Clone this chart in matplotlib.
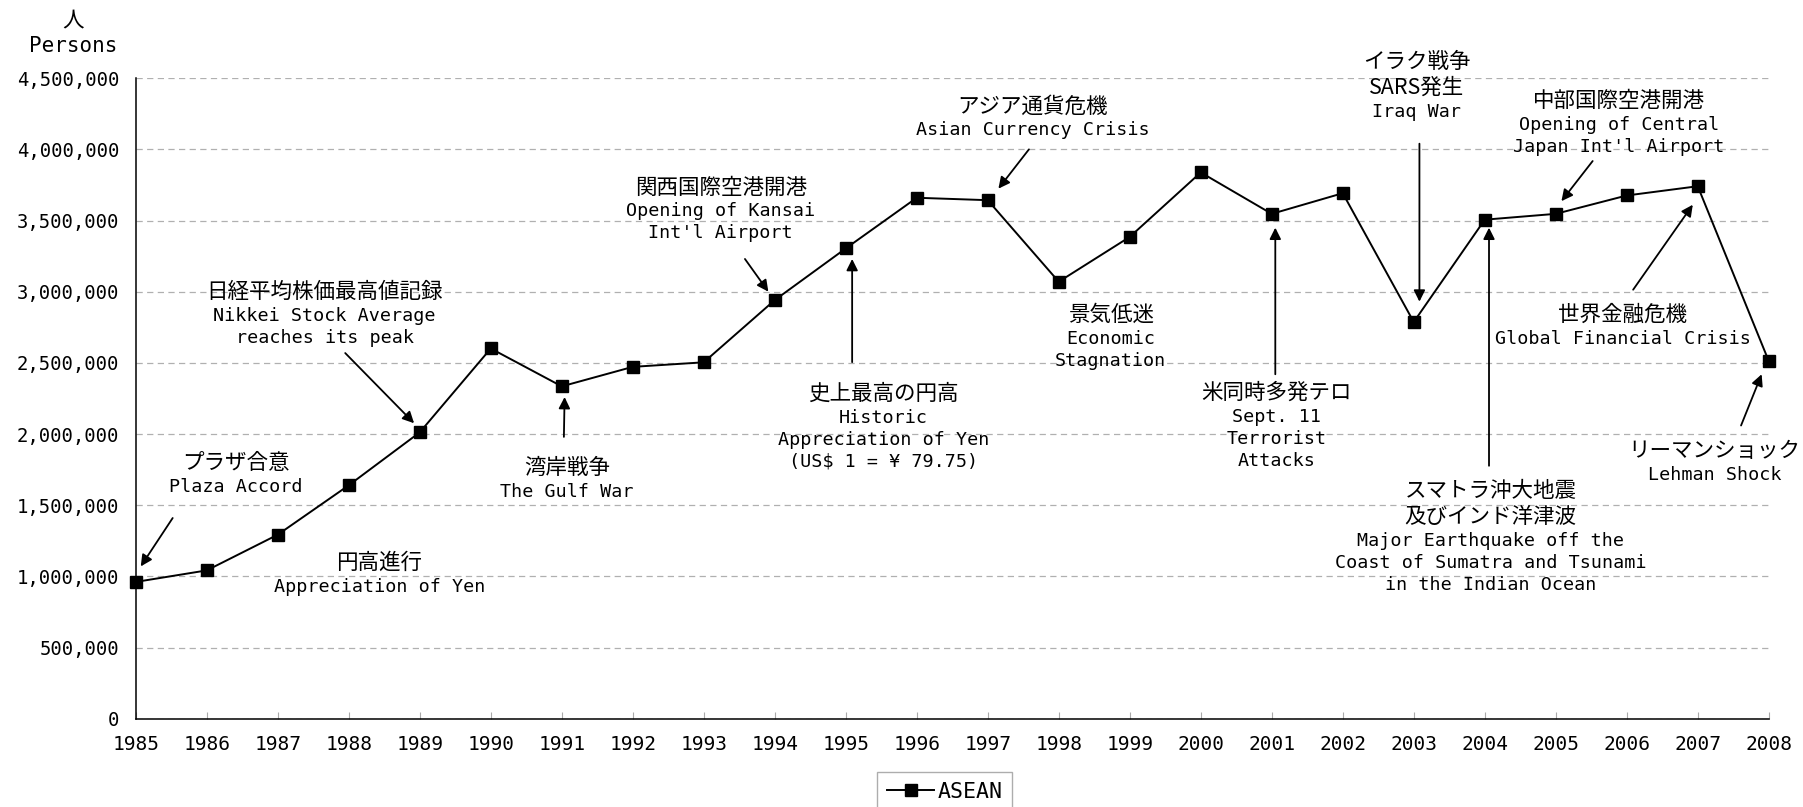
import matplotlib.pyplot as plt
from matplotlib.ticker import FuncFormatter

LATIN = 'DejaVu Sans Mono'
CJK = 'Noto Sans CJK JP'
plt.rcParams['font.family'] = [LATIN, CJK]

years = list(range(1985, 2009))
asean = [961000, 1042000, 1293000, 1640000, 2012000, 2601000, 2335000, 2472000,
         2504000, 2941000, 3304000, 3660000, 3643000, 3070000, 3385000, 3838000,
         3547000, 3692000, 2787000, 3506000, 3547000, 3676000, 3741000, 2513000]

# event notes: text, centre of text block, arrow tail, arrow tip (None = no arrow)
event_text = [
    'プラザ合意\nPlaza Accord',
    '円高進行\nAppreciation of Yen',
    '日経平均株価最高値記録\nNikkei Stock Average\nreaches its peak',
    '湾岸戦争\nThe Gulf War',
    '関西国際空港開港\nOpening of Kansai\nInt\'l Airport',
    '史上最高の円高\nHistoric\nAppreciation of Yen\n(US$ 1 = ¥ 79.75)',
    'アジア通貨危機\nAsian Currency Crisis',
    '景気低迷\nEconomic\nStagnation',
    '米同時多発テロ\nSept. 11\nTerrorist\nAttacks',
    'イラク戦争\nSARS発生\nIraq War',
    '中部国際空港開港\nOpening of Central\nJapan Int\'l Airport',
    '世界金融危機\nGlobal Financial Crisis',
    'スマトラ沖大地震\n及びインド洋津波\nMajor Earthquake off the\nCoast of Sumatra and Tsunami\nin the Indian Ocean',
    'リーマンショック\nLehman Shock',
]
event_pos = [(1986.41, 1713000), (1988.43, 1010000), (1987.66, 2836000), (1991.07, 1680000),
             (1993.24, 3571000), (1995.53, 2044000), (1997.63, 4217000), (1998.73, 2674000),
             (2001.07, 2052000), (2003.04, 4440000), (2005.89, 4177000), (2005.94, 2755000),
             (2004.08, 1268000), (2007.24, 1800000)]
arrow_from = [(1985.52, 1410000), None, (1987.95, 2569000), (1991.03, 1980000),
              (1993.58, 3230000), (1995.09, 2505000), (1997.58, 4000000), None,
              (2001.05, 2420000), (2003.08, 4040000), (2005.52, 3918000), (2006.09, 3014000),
              (2004.06, 1777000), (2007.61, 2060000)]
arrow_to = [(1985.07, 1070000), None, (1988.92, 2076000), (1991.04, 2260000),
            (1993.91, 3000000), (1995.09, 3230000), (1997.15, 3724000), None,
            (2001.05, 3450000), (2003.08, 2930000), (2005.08, 3636000), (2006.93, 3611000),
            (2004.06, 3450000), (2007.90, 2420000)]


def has_cjk(s):
    return any(ord(c) > 0x2E80 for c in s)


fig, ax = plt.subplots(figsize=(18.03, 8.07), dpi=100)
fig.subplots_adjust(left=0.0753, right=0.981, bottom=0.1094, top=0.9031)

ax.plot(years, asean, color='black', lw=1.4, marker='s', ms=8, label='ASEAN',
        clip_on=False, zorder=3)

ax.set_xlim(1985, 2008)
ax.set_ylim(0, 4500000)
ax.set_xticks(years)
ax.set_yticks(range(0, 4500001, 500000))
ax.yaxis.set_major_formatter(FuncFormatter(lambda v, p: f'{int(v):,}'))
ax.grid(axis='y', color='#b0b0b0', ls=(0, (5, 3.5)), lw=0.9)
ax.set_axisbelow(True)
ax.tick_params(axis='y', length=0, pad=12, labelsize=13.6)
ax.tick_params(axis='x', direction='in', length=5, color='#aaaaaa', pad=12, labelsize=14)
for s in ['top', 'right']:
    ax.spines[s].set_visible(False)
for s in ['left', 'bottom']:
    ax.spines[s].set_color('black')
    ax.spines[s].set_linewidth(1.1)

# each line of a note drawn on its own: japanese lines a bit bigger, like the original
for txt, pos, a0, a1 in zip(event_text, event_pos, arrow_from, arrow_to):
    lines = txt.split('\n')
    steps = []
    for i in range(len(lines) - 1):
        n = has_cjk(lines[i]) + has_cjk(lines[i + 1])
        steps.append([22, 24, 26][n] / 1.389)
    offs = [0]
    for st in steps:
        offs.append(offs[-1] - st)
    mid = (offs[0] + offs[-1]) / 2
    for line, o in zip(lines, offs):
        if has_cjk(line):
            ax.annotate(line, xy=pos, xytext=(0, o - mid), textcoords='offset points',
                        ha='center', va='center', fontsize=15.5, family=[CJK], zorder=4)
        else:
            ax.annotate(line, xy=pos, xytext=(0, o - mid), textcoords='offset points',
                        ha='center', va='center', fontsize=13.2, family=[LATIN], zorder=4)
    if a0 is not None:
        ax.annotate('', xy=a1, xytext=a0,
                    arrowprops=dict(arrowstyle='-|>', color='black', lw=1.3,
                                    mutation_scale=17, shrinkA=0, shrinkB=0))

fig.text(0.0405, 0.975, '人', ha='center', va='center', fontsize=15.5, family=[CJK])
fig.text(0.0405, 0.943, 'Persons', ha='center', va='center', fontsize=15)

fig.legend(loc='upper center', bbox_to_anchor=(0.524, 0.043), frameon=True,
           fancybox=False, edgecolor='#999999', fontsize=15.5, handlelength=2.2,
           handletextpad=0.15, borderpad=0.45, borderaxespad=0)

fig.savefig('out.png', dpi=100)
